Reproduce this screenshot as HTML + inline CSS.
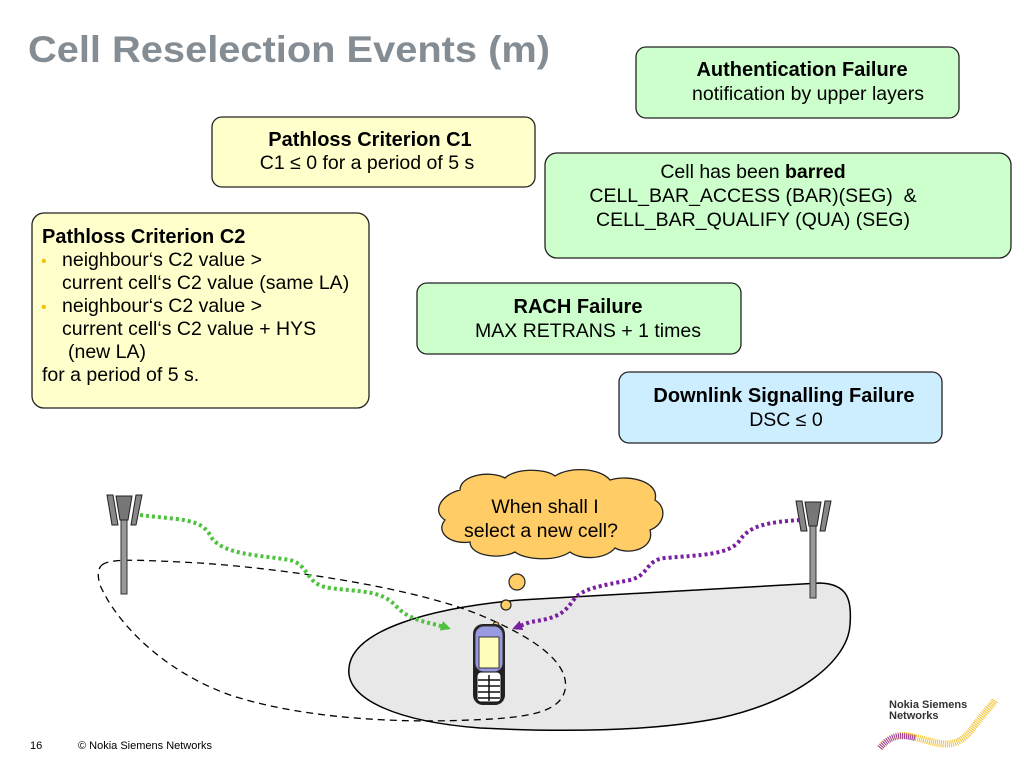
<!DOCTYPE html>
<html><head><meta charset="utf-8"><style>
html,body{margin:0;padding:0;background:#fff;}
svg{display:block;font-family:"Liberation Sans",Arial,sans-serif;}
</style></head><body>
<svg width="1024" height="768" viewBox="0 0 1024 768" xmlns="http://www.w3.org/2000/svg">
<defs>
<marker id="ag" markerWidth="10" markerHeight="10" refX="7" refY="5" orient="auto" markerUnits="userSpaceOnUse"><path d="M0,0 L10,5 L0,10 Z" fill="#4ec23e"/></marker>
<marker id="ap" markerWidth="10" markerHeight="10" refX="7" refY="5" orient="auto" markerUnits="userSpaceOnUse"><path d="M0,0 L10,5 L0,10 Z" fill="#7a1fa0"/></marker>
</defs>
<text x="28" y="62" font-size="37" font-weight="bold" fill="#858d94" textLength="522" lengthAdjust="spacingAndGlyphs">Cell Reselection Events (m)</text>

<rect x="636" y="47" width="323" height="71" rx="10" fill="#ccffcc" stroke="#222" stroke-width="1.3"/>
<text x="802" y="76" font-size="20" font-weight="bold" text-anchor="middle">Authentication Failure</text>
<text x="808" y="100" font-size="19.5" text-anchor="middle">notification by upper layers</text>

<rect x="212" y="117" width="323" height="70" rx="10" fill="#ffffcc" stroke="#222" stroke-width="1.3"/>
<text x="370" y="146" font-size="20" font-weight="bold" text-anchor="middle">Pathloss Criterion C1</text>
<text x="367" y="169" font-size="19.5" text-anchor="middle">C1 ≤ 0 for a period of 5 s</text>

<rect x="545" y="153" width="466" height="105" rx="12" fill="#ccffcc" stroke="#222" stroke-width="1.3"/>
<text x="753" y="178" font-size="19.5" text-anchor="middle">Cell has been <tspan font-weight="bold">barred</tspan></text>
<text x="753" y="202" font-size="19.5" text-anchor="middle" xml:space="preserve">CELL_BAR_ACCESS (BAR)(SEG)  &amp;</text>
<text x="753" y="226" font-size="19.5" text-anchor="middle">CELL_BAR_QUALIFY (QUA) (SEG)</text>

<rect x="32" y="213" width="337" height="195" rx="12" fill="#ffffcc" stroke="#222" stroke-width="1.3"/>
<g font-size="19.5">
<text x="42" y="243" font-weight="bold" font-size="20">Pathloss Criterion C2</text>
<text x="41" y="266" fill="#f2c200" font-size="16">•</text>
<text x="62" y="266">neighbour‘s C2 value &gt;</text>
<text x="62" y="289">current cell‘s C2 value (same LA)</text>
<text x="41" y="312" fill="#f2c200" font-size="16">•</text>
<text x="62" y="312">neighbour‘s C2 value &gt;</text>
<text x="62" y="335">current cell‘s C2 value + HYS</text>
<text x="68" y="358">(new LA)</text>
<text x="42" y="381">for a period of 5 s.</text>
</g>

<rect x="417" y="283" width="324" height="71" rx="10" fill="#ccffcc" stroke="#222" stroke-width="1.3"/>
<text x="578" y="313" font-size="20" font-weight="bold" text-anchor="middle">RACH Failure</text>
<text x="588" y="337" font-size="19.5" text-anchor="middle">MAX RETRANS + 1 times</text>

<rect x="619" y="372" width="323" height="71" rx="10" fill="#cceeff" stroke="#222" stroke-width="1.3"/>
<text x="784" y="402" font-size="20" font-weight="bold" text-anchor="middle">Downlink Signalling Failure</text>
<text x="786" y="426" font-size="19.5" text-anchor="middle">DSC ≤ 0</text>

<path d="M349,668 C352,630 430,608 520,600 L820,583 C848,584 852,600 850,625 C848,660 800,700 720,718 C650,732 560,732 480,728 C400,722 345,700 349,668 Z" fill="#e8e8e8" stroke="#000" stroke-width="1.5"/>
<path d="M102,565 C110,558 140,560 200,563 C300,570 420,590 480,615 C540,640 570,665 565,690 C560,712 530,718 470,720 C380,724 290,715 230,695 C160,670 115,620 100,585 C97,575 98,568 102,565 Z" fill="none" stroke="#000" stroke-width="1.3" stroke-dasharray="7,5"/>

<g>
<rect x="121" y="510" width="6" height="84" fill="#999" stroke="#333" stroke-width="1"/>
<path d="M107,495 L113,495 L118,525 L112,525 Z M131,525 L136,495 L142,495 L136,525 Z" fill="#888" stroke="#222"/>
<path d="M116,496 L132,496 L128,520 L120,520 Z" fill="#777" stroke="#222"/>
<rect x="810" y="515" width="6" height="83" fill="#999" stroke="#333" stroke-width="1"/>
<path d="M796,501 L802,501 L807,531 L801,531 Z M820,531 L825,501 L831,501 L825,531 Z" fill="#888" stroke="#222"/>
<path d="M805,502 L821,502 L817,526 L809,526 Z" fill="#777" stroke="#222"/>
</g>

<path d="M140,515 C180,520 200,518 210,535 C220,555 260,555 290,560 C310,565 305,585 330,588 C360,592 380,590 395,605 C410,622 430,622 448,628" fill="none" stroke="#4ec23e" stroke-width="4" stroke-dasharray="3,3" marker-end="url(#ag)"/>
<path d="M800,520 C770,522 750,525 740,540 C730,555 700,555 665,558 C645,560 650,575 630,580 C600,586 585,588 575,598 C565,612 560,618 530,622 L515,628" fill="none" stroke="#7a1fa0" stroke-width="4" stroke-dasharray="3,3" marker-end="url(#ap)"/>

<path d="M460,490 C460,475 490,470 505,478 C515,468 545,468 555,476 C570,466 600,468 610,480 C630,474 660,482 655,500 C668,508 664,525 650,530 C655,548 630,556 615,548 C605,560 580,560 570,552 C555,562 525,560 515,552 C500,560 470,556 470,542 C450,545 435,532 445,520 C432,512 440,495 460,490 Z" fill="#ffcc66" stroke="#222" stroke-width="1.3"/>
<text x="545" y="513" font-size="19.5" text-anchor="middle">When shall I</text>
<text x="541" y="537" font-size="19.5" text-anchor="middle">select a new cell?</text>
<circle cx="517" cy="582" r="8" fill="#ffcc66" stroke="#222" stroke-width="1.2"/>
<circle cx="506" cy="605" r="5" fill="#ffcc66" stroke="#222" stroke-width="1.2"/>
<circle cx="496" cy="625" r="3" fill="#ffcc66" stroke="#222" stroke-width="1"/>

<rect x="473" y="624" width="32" height="81" rx="10" fill="#222"/>
<rect x="475" y="626" width="28" height="46" rx="9" fill="#9a9ae0" stroke="#333"/>
<rect x="479" y="637" width="20" height="31" fill="#ffffbb" stroke="#333"/>
<rect x="477" y="672" width="24" height="30" rx="4" fill="#fff" stroke="#111"/>
<g stroke="#111" stroke-width="1.5"><line x1="478" y1="680" x2="500" y2="680"/><line x1="478" y1="686" x2="500" y2="686"/><line x1="478" y1="692" x2="500" y2="692"/><line x1="478" y1="698" x2="500" y2="698"/><line x1="489" y1="675" x2="489" y2="701"/></g>

<text x="30" y="749" font-size="11">16</text>
<text x="78" y="749" font-size="11">© Nokia Siemens Networks</text>
<text x="889" y="708" font-size="11" font-weight="bold" fill="#333">Nokia Siemens</text>
<text x="889" y="719" font-size="11" font-weight="bold" fill="#333">Networks</text>
<path d="M880,748 C895,730 905,735 925,740 C945,746 960,748 975,725 C985,712 992,705 995,700" fill="none" stroke="#f2c230" stroke-width="7" stroke-dasharray="1,1"/>
<path d="M880,748 C890,736 900,734 915,738" fill="none" stroke="#9a3aa0" stroke-width="6" stroke-dasharray="1,1"/>
</svg>
</body></html>
